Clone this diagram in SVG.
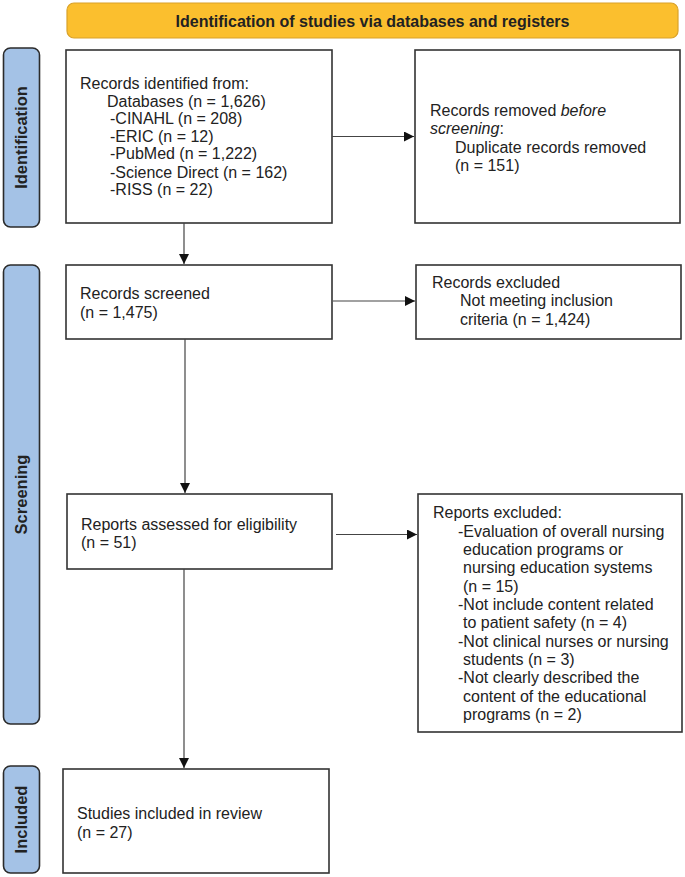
<svg xmlns="http://www.w3.org/2000/svg" width="685" height="877" viewBox="0 0 685 877">
<defs>
<style>
.box{fill:#fff;stroke:#333;stroke-width:1.6}
.side{fill:#a4c2e6;stroke:#2b2b2b;stroke-width:1.6}
.t{font-family:"Liberation Sans",Arial,sans-serif;font-size:16px;fill:#222}
.b{font-family:"Liberation Sans",Arial,sans-serif;font-size:16px;font-weight:bold;fill:#222}
.s{font-family:"Liberation Sans",Arial,sans-serif;font-size:16.5px;font-weight:bold;fill:#222}
.conn{stroke:#444;stroke-width:1.2;fill:none;marker-end:url(#ah)}
</style>
<marker id="ah" viewBox="0 0 10 10" refX="10" refY="5" markerWidth="10" markerHeight="10" markerUnits="userSpaceOnUse" orient="auto">
<path d="M0,0 L10,5 L0,10 z" fill="#111"/>
</marker>
</defs>
<rect width="685" height="877" fill="#fff"/>
<g id="banner">
<rect x="67" y="3" width="611" height="35" rx="7" fill="#fbbf2e" stroke="#d9a22a" stroke-width="1.2"/>
<text class="b" x="372.5" y="26.5" text-anchor="middle">Identification of studies via databases and registers</text>
</g>
<g id="side-identification">
<rect class="side" x="3.5" y="48" width="36" height="179" rx="7"/>
<text class="s" transform="translate(27,137.5) rotate(-90)" text-anchor="middle">Identification</text>
</g>
<g id="side-screening">
<rect class="side" x="3.5" y="265" width="36" height="459" rx="7"/>
<text class="s" transform="translate(27,494.5) rotate(-90)" text-anchor="middle">Screening</text>
</g>
<g id="side-included">
<rect class="side" x="3.5" y="766" width="36" height="107" rx="7"/>
<text class="s" transform="translate(27,819.5) rotate(-90)" text-anchor="middle">Included</text>
</g>
<g id="n-identified">
<rect class="box" x="66" y="50" width="266" height="173"/>
<text class="t" x="80" y="89">Records identified from:</text>
<text class="t" x="107" y="107">Databases (n = 1,626)</text>
<text class="t" x="110" y="124">-CINAHL (n = 208)</text>
<text class="t" x="110" y="142">-ERIC (n = 12)</text>
<text class="t" x="110" y="159">-PubMed (n = 1,222)</text>
<text class="t" x="110" y="178">-Science Direct (n = 162)</text>
<text class="t" x="110" y="195">-RISS (n = 22)</text>
</g>
<g id="n-removed">
<rect class="box" x="415" y="50" width="265" height="173"/>
<text class="t" x="430" y="116">Records removed <tspan font-style="italic">before</tspan></text>
<text class="t" x="430" y="134"><tspan font-style="italic">screening</tspan>:</text>
<text class="t" x="455" y="153">Duplicate records removed</text>
<text class="t" x="455" y="171">(n = 151)</text>
</g>
<g id="n-screened">
<rect class="box" x="66" y="265" width="266" height="74"/>
<text class="t" x="80" y="299">Records screened</text>
<text class="t" x="80" y="318">(n = 1,475)</text>
</g>
<g id="n-excluded">
<rect class="box" x="416" y="265" width="265" height="74"/>
<text class="t" x="432" y="288">Records excluded</text>
<text class="t" x="460" y="306">Not meeting inclusion</text>
<text class="t" x="460" y="325">criteria (n = 1,424)</text>
</g>
<g id="n-assessed">
<rect class="box" x="67" y="494" width="265" height="75"/>
<text class="t" x="81" y="530">Reports assessed for eligibility</text>
<text class="t" x="81" y="548">(n = 51)</text>
</g>
<g id="n-reports-excluded">
<rect class="box" x="418" y="494" width="264" height="238"/>
<text class="t" x="433" y="518">Reports excluded:</text>
<text class="t" x="458" y="537">-Evaluation of overall nursing</text>
<text class="t" x="463" y="555">education programs or</text>
<text class="t" x="463" y="573">nursing education systems</text>
<text class="t" x="463" y="592">(n = 15)</text>
<text class="t" x="458" y="610">-Not include content related</text>
<text class="t" x="463" y="628">to patient safety (n = 4)</text>
<text class="t" x="458" y="647">-Not clinical nurses or nursing</text>
<text class="t" x="463" y="665">students (n = 3)</text>
<text class="t" x="458" y="683">-Not clearly described the</text>
<text class="t" x="463" y="702">content of the educational</text>
<text class="t" x="463" y="720">programs (n = 2)</text>
</g>
<g id="n-included">
<rect class="box" x="63" y="769" width="266" height="104"/>
<text class="t" x="77" y="819">Studies included in review</text>
<text class="t" x="77" y="838">(n = 27)</text>
</g>
<g id="connectors">
<line class="conn" x1="332" y1="136.5" x2="414" y2="136.5"/>
<line class="conn" x1="184" y1="223" x2="184" y2="264"/>
<line class="conn" x1="333" y1="301" x2="415" y2="301"/>
<line class="conn" x1="185" y1="339" x2="185" y2="493"/>
<line class="conn" x1="336" y1="534.5" x2="417" y2="534.5"/>
<line class="conn" x1="184" y1="569" x2="184" y2="768"/>
</g>
</svg>
